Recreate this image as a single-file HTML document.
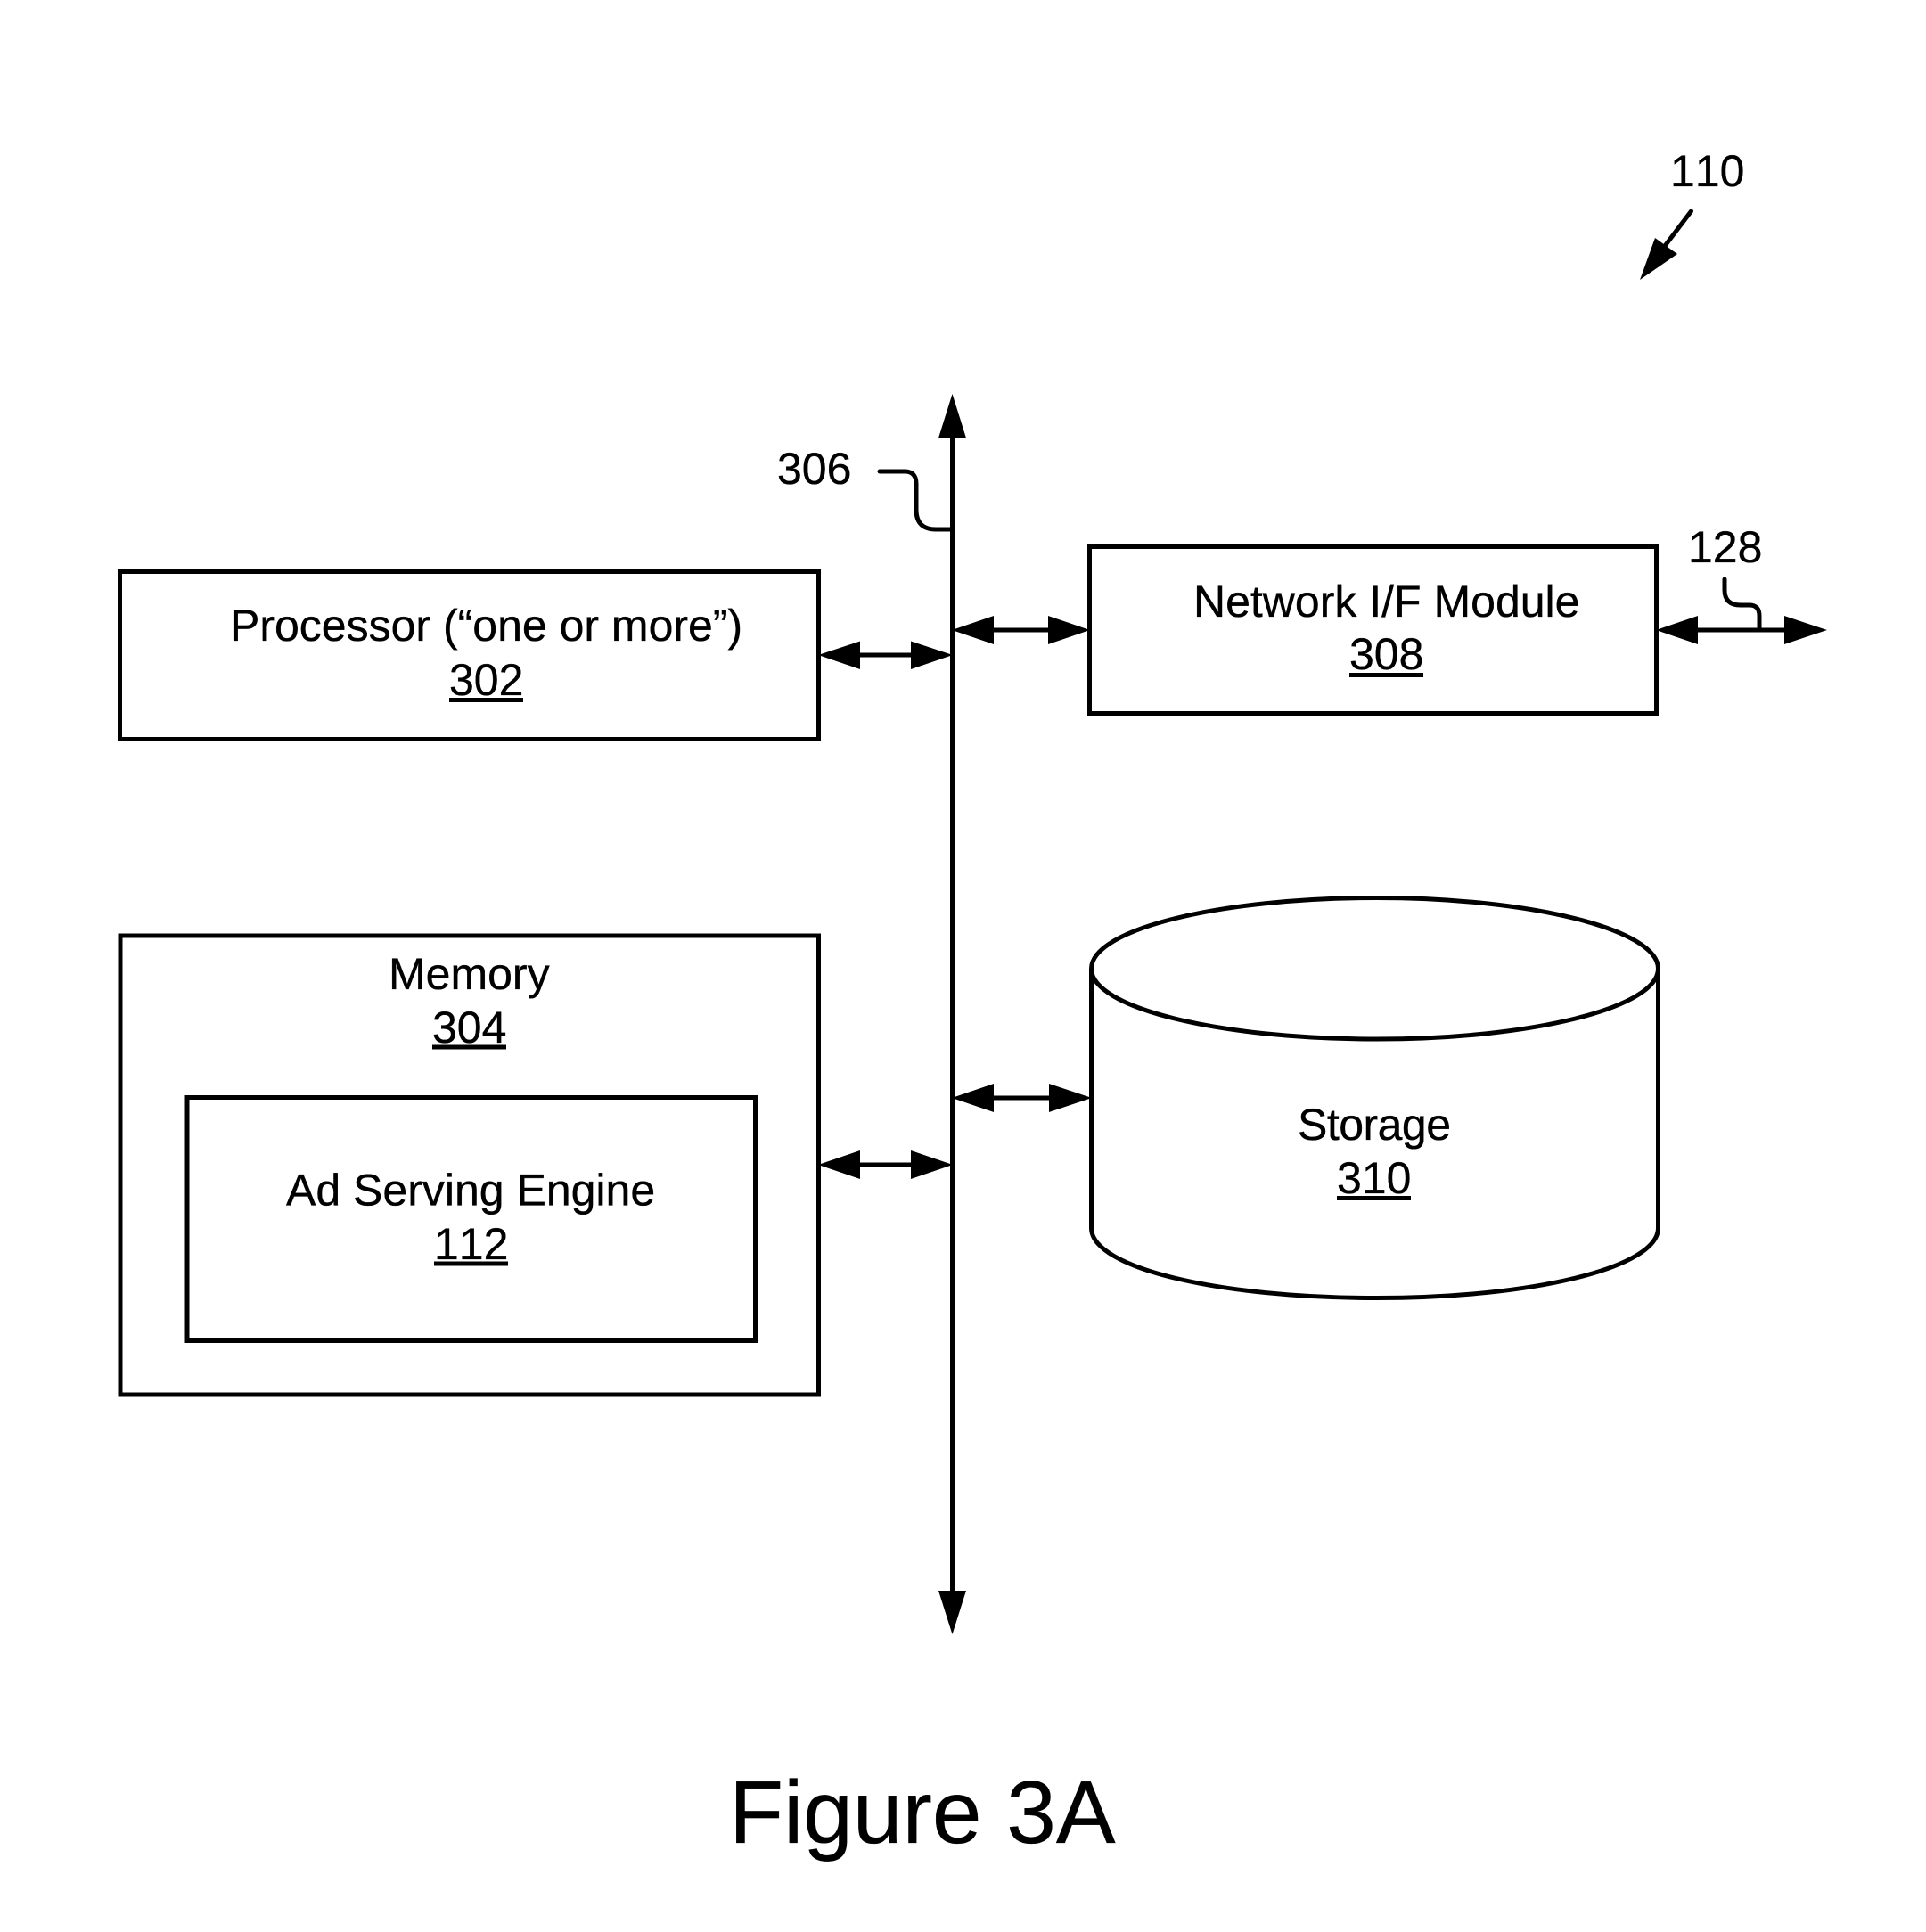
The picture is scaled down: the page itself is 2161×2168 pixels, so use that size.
<!DOCTYPE html>
<html>
<head>
<meta charset="utf-8">
<style>
html,body{margin:0;padding:0;background:#fff;}
svg{display:block;}
text{font-family:"Liberation Sans",Arial,sans-serif;font-size:50px;fill:#000;stroke:#000;stroke-width:.35px;text-rendering:geometricPrecision;font-kerning:none;}
</style>
</head>
<body>
<svg width="2161" height="2168" viewBox="0 0 2161 2168" xmlns="http://www.w3.org/2000/svg">
<rect width="2161" height="2168" fill="#fff"/>
<g fill="none" stroke="#000" stroke-width="5">
  <!-- boxes -->
  <rect x="134.5" y="641.5" width="784" height="188"/>
  <rect x="1222.5" y="613.5" width="636" height="187"/>
  <rect x="135" y="1050" width="783.5" height="515"/>
  <rect x="210" y="1231.5" width="637.5" height="273"/>
  <!-- cylinder -->
  <path d="M1224.5 1087 C1224.5 1043 1367 1007.5 1545 1007.5 C1718 1007.5 1860.5 1043 1860.5 1087 C1860.5 1131 1718 1166 1545 1166 C1367 1166 1224.5 1131 1224.5 1087 V1378 C1224.5 1423 1367 1456.5 1545 1456.5 C1718 1456.5 1860.5 1423 1860.5 1378 V1087"/>
  <!-- bus -->
  <line x1="1068.5" y1="480" x2="1068.5" y2="1795"/>
  <!-- connectors -->
  <line x1="950" y1="735" x2="1040" y2="735"/>
  <line x1="1100" y1="707" x2="1190" y2="707"/>
  <line x1="1895" y1="707" x2="2010" y2="707"/>
  <line x1="1100" y1="1232" x2="1190" y2="1232"/>
  <line x1="950" y1="1307" x2="1040" y2="1307"/>
  <line x1="1897.5" y1="237" x2="1865" y2="280" stroke-linecap="round"/>
  <!-- leaders -->
  <path d="M987 529 H1015 Q1028 529 1028 543 V572 Q1028 594 1050 594 H1067" stroke-linecap="round"/>
  <path d="M1935 650 V662 Q1935 679 1953 679 H1963 Q1974 679 1974 691 V707" stroke-linecap="round"/>
</g>
<g fill="#000" stroke="none">
  <!-- bus heads -->
  <polygon points="1068.5,442 1053,491.5 1084,491.5"/>
  <polygon points="1068.5,1834 1053,1785 1084,1785"/>
  <!-- 110 arrow -->
  <polygon points="1840,314 1857,267 1882,285"/>
  <!-- processor arrow -->
  <polygon points="918,735 965,719.5 965,751"/>
  <polygon points="1069,735 1022,719.5 1022,751"/>
  <!-- network arrow -->
  <polygon points="1068,707 1115,691 1115,723"/>
  <polygon points="1223,707 1176,691 1176,723"/>
  <!-- 128 arrow -->
  <polygon points="1858,707 1905,691 1905,723"/>
  <polygon points="2050,707 2002,691 2002,723"/>
  <!-- storage arrow -->
  <polygon points="1068,1232 1115,1216 1115,1248"/>
  <polygon points="1225,1232 1177,1216 1177,1248"/>
  <!-- memory arrow -->
  <polygon points="918,1307 965,1291 965,1323"/>
  <polygon points="1069,1307 1022,1291 1022,1323"/>
  <!-- underlines -->
  <rect x="504" y="783" width="83" height="5"/>
  <rect x="1514" y="755" width="83" height="5"/>
  <rect x="485" y="1172.5" width="83" height="5"/>
  <rect x="487" y="1415.5" width="83" height="5"/>
  <rect x="1500" y="1342" width="83" height="5"/>
</g>
<text x="1874" y="209">110</text>
<text x="872" y="543">306</text>
<text x="1894" y="631">128</text>
<text x="258" y="719">Processor (“one or more”)</text>
<text x="504" y="780">302</text>
<text x="1339" y="692">Network I/F Module</text>
<text x="1514" y="751">308</text>
<text x="436" y="1110">Memory</text>
<text x="485" y="1170">304</text>
<text x="321" y="1352.5">Ad Serving Engine</text>
<text x="487" y="1413">112</text>
<text x="1456" y="1279" textLength="172">Storage</text>
<text x="1500" y="1339">310</text>
<text x="818" y="2068" style="font-size:100px">Figure 3A</text>
</svg>
</body>
</html>
